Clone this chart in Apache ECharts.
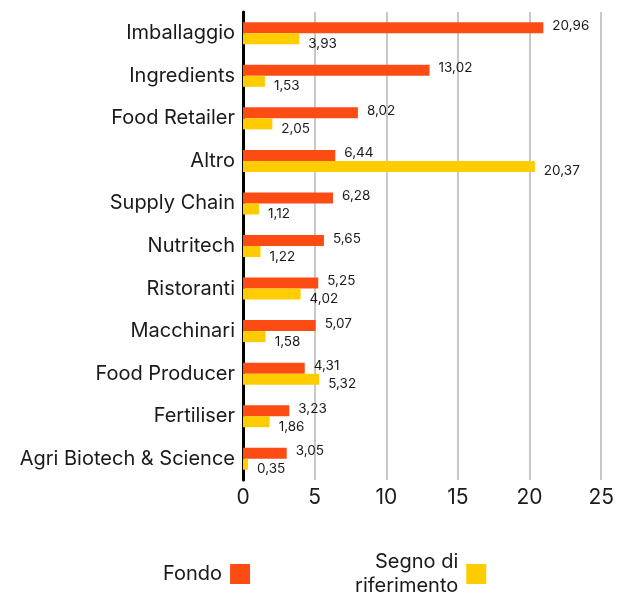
<!DOCTYPE html>
<html>
<head>
<meta charset="utf-8">
<script src="https://cdn.jsdelivr.net/npm/echarts@6/dist/echarts.min.js"></script>
<style>
  html, body { margin: 0; padding: 0; background: #fff; }
  #chart { width: 617px; height: 601px; }
</style>
</head>
<body>
<div id="chart"></div>
<script>
  const categories = ['Imballaggio', 'Ingredients', 'Food Retailer', 'Altro', 'Supply Chain', 'Nutritech',
    'Ristoranti', 'Macchinari', 'Food Producer', 'Fertiliser', 'Agri Biotech & Science']
  const fondo = [20.96, 13.02, 8.02, 6.44, 6.28, 5.65, 5.25, 5.07, 4.31, 3.23, 3.05]
  const riferimento = [3.93, 1.53, 2.05, 20.37, 1.12, 1.22, 4.02, 1.58, 5.32, 1.86, 0.35]
  const xTicks = [0, 5, 10, 15, 20, 25]

  const fmt = v => v.toFixed(2).replace('.', ',')
  const font = 'Inter, sans-serif'

  let chart = echarts.init(document.getElementById('chart'))
  chart.setOption({
    animation: false,
    textStyle: { fontFamily: font },
    grid: { left: 243, top: 12, width: 361, height: 468, containLabel: false },
    legend: {
      bottom: -2,
      left: 158,
      align: 'right',
      itemWidth: 20,
      itemHeight: 20,
      itemGap: 105,
      icon: 'rect',
      data: ['Fondo', 'Segno di\nriferimento'],
      textStyle: { fontSize: 20, color: '#1a1a1a', align: 'right', lineHeight: 24, padding: [0, 3, 0, 0] }
    },
    xAxis: {
      type: 'value',
      min: xTicks[0],
      max: xTicks[xTicks.length - 1],
      interval: 5,
      axisLine: { show: false },
      axisTick: { show: false },
      splitLine: { lineStyle: { color: '#c8c8c8', width: 2 } },
      axisLabel: { fontSize: 21, color: '#1a1a1a', margin: 7, formatter: v => String(v) }
    },
    yAxis: {
      type: 'category',
      inverse: true,
      data: categories,
      axisLine: { lineStyle: { color: '#000', width: 3 } },
      axisTick: { show: false },
      axisLabel: { fontSize: 20, color: '#1a1a1a', margin: 8 }
    },
    series: [
      {
        name: 'Fondo',
        type: 'bar',
        data: fondo,
        barWidth: 11,
        barGap: '0%',
        itemStyle: { color: '#fc4c14' },
        label: {
          show: true, position: 'right', distance: 9, offset: [0, -2],
          fontSize: 13.5, color: '#1a1a1a', formatter: p => fmt(p.value)
        }
      },
      {
        name: 'Segno di\nriferimento',
        type: 'bar',
        data: riferimento,
        barWidth: 11,
        barGap: '0%',
        itemStyle: { color: '#ffcc00' },
        label: {
          show: true, position: 'right', distance: 9, offset: [0, 5],
          fontSize: 13.5, color: '#1a1a1a', formatter: p => fmt(p.value)
        }
      }
    ]
  })
</script>
</body>
</html>
